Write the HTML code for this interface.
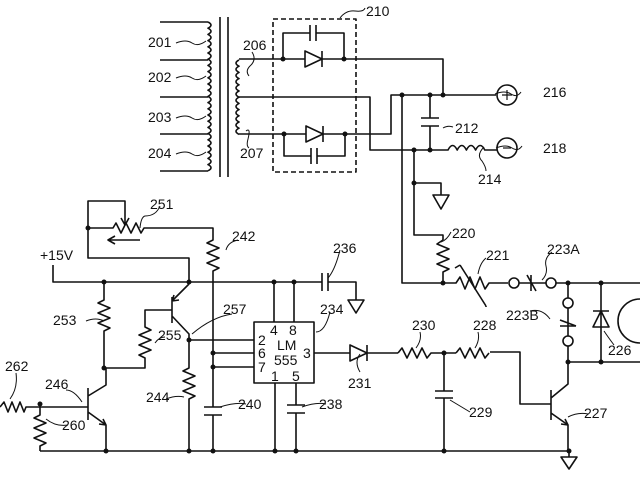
<!DOCTYPE html>
<html><head><meta charset="utf-8"><style>
html,body{margin:0;padding:0;background:#fff;}
svg{display:block;}
text{font-family:"Liberation Sans",sans-serif;font-size:14px;fill:#111;}
</style></head><body>
<svg width="640" height="480" viewBox="0 0 640 480" xmlns="http://www.w3.org/2000/svg">
<g fill="none" stroke="#111" stroke-width="1.6" stroke-linejoin="round">
<path d="M160 22H208 M160 60H208 M160 97H208 M160 134H208 M160 171H208"/>
<path d="M208 22 q6 3.1 0 6.2 q6 3.1 0 6.2 q6 3.1 0 6.2 q6 3.1 0 6.2 q6 3.1 0 6.2 q6 3.1 0 6.2 q6 3.1 0 6.2 q6 3.1 0 6.2 q6 3.1 0 6.2 q6 3.1 0 6.2 q6 3.1 0 6.2 q6 3.1 0 6.2 q6 3.1 0 6.2 q6 3.1 0 6.2 q6 3.1 0 6.2 q6 3.1 0 6.2 q6 3.1 0 6.2 q6 3.1 0 6.2 q6 3.1 0 6.2 q6 3.1 0 6.2 q6 3.1 0 6.2 q6 3.1 0 6.2 q6 3.1 0 6.2 q6 3.1 0 6.2"/>
<path d="M220 17V177 M228 17V177"/>
<path d="M239 60 q-6 3.1 0 6.2 q-6 3.1 0 6.2 q-6 3.1 0 6.2 q-6 3.1 0 6.2 q-6 3.1 0 6.2 q-6 3.1 0 6.2 q-6 3.1 0 6.2 q-6 3.1 0 6.2 q-6 3.1 0 6.2 q-6 3.1 0 6.2 q-6 3.1 0 6.2 q-6 3.1 0 6.2"/>
<path d="M239 59H283 M239 97H370V150H414 M239 134H284"/>
<rect x="273" y="19" width="83" height="153" stroke-dasharray="5,3"/>
<path d="M283 59V33H310 M316 33H344V59 M310 25V41 M316 25V41"/>
<path d="M283 59H305 M322 59H344"/>
<path d="M305 51V67L322 59Z M322 51V67"/>
<path d="M284 134V156H311 M317 156H345V134 M311 148V164 M317 148V164"/>
<path d="M284 134H306 M323 134H345"/>
<path d="M306 126V142L323 134Z M323 126V142"/>
<path d="M344 59H443V95 M345 134H391V95H496"/>
<circle cx="507" cy="95" r="10"/>
<path d="M502 95H512 M507 90V100" stroke-width="1.2"/>
<path d="M430 95V118 M421 118H439 M421 126H439 M430 126V150"/>
<path d="M414 150H448 q4.6 -9 9.2 0 q4.6 -9 9.2 0 q4.6 -9 9.2 0 q4.6 -9 9.2 0 H497"/>
<circle cx="507" cy="148" r="10"/>
<path d="M503 148H511" stroke-width="1.2"/>
<path d="M402 95V283H443 M414 150V235H443V240"/>
<path d="M414 183H441V195 M433 195H449L441 209Z"/>
<path d="M443 240 l-6 4 l12 5 l-12 5 l12 5 l-12 5 l12 5 l-6 3 V283"/>
<path d="M443 283H456 l4 -6 l5 12 l5 -12 l5 12 l5 -12 l5 12 l4 -6 H508"/>
<path d="M460 265 L486 306 M455 268 L460 265 M486 306V307"/>
<circle cx="514" cy="283" r="5"/>
<path d="M519 283H546 M527 275L536 291 M531 275V291"/>
<circle cx="551" cy="283" r="5"/>
<path d="M556 283H640"/>
<path d="M568 283V298"/>
<circle cx="568" cy="303" r="5"/>
<path d="M568 308V336 M560 320L576 326 M560 326H576"/>
<circle cx="568" cy="341" r="5"/>
<path d="M568 346V362H640"/>
<path d="M601 283V362 M593 311H609 M593 327H609L601 311Z"/>
<path d="M640 299 A22 22 0 0 0 640 343"/>
<path d="M490 352H520V404H551 M551 390V420 M551 398L568 384V362 M551 413L568 425V450"/>
<path d="M568 425 l-7 -1 M568 425 l-3 -6"/>
<path d="M569 450V457 M561 457H577L569 469Z"/>
<path d="M314 353H350 M350 345V361L367 353Z M367 345V361 M367 353H398"/>
<path d="M398 353 l4 -5 l5 10 l5 -10 l5 10 l5 -10 l5 10 l4 -5 H456"/>
<path d="M456 353 l4 -5 l5 10 l5 -10 l5 10 l5 -10 l5 10 l4 -5"/>
<path d="M444 353V391 M435 391H453 M435 398H453 M444 398V450"/>
<path d="M40 451H569"/>
<path d="M0 407 l4 -5 l4 10 l4 -10 l4 10 l4 -10 l4 10 l2 -5 H88"/>
<path d="M40 404V415 l-6 3 l12 5 l-12 5 l12 5 l-12 5 l12 5 l-6 3 V451"/>
<path d="M88 388V420 M88 396L106 385V368 M88 412L106 425V451 M106 425 l-7 -1 M106 425 l-3 -6"/>
<path d="M104 282V300 l-6 3 l12 5 l-12 5 l12 5 l-12 5 l12 5 l-6 3 V368"/>
<path d="M104 368H145V358 l-6 -3 l12 -5 l-12 -5 l12 -5 l-12 -5 l12 -5 l-6 -3 V310H172"/>
<path d="M172 297V323 M172 301L189 284 M172 316L189 334V340 M172 301 l7 -1 M172 301 l2 -6"/>
<path d="M53 265V282H294 M294 282H322 M328 282H356V300 M322 273V291 M328 273V291 M348 300H364L356 313Z"/>
<path d="M88 228V201H125V224 M121 218L125 225L129 218"/>
<path d="M88 228H113 l3 -5 l5 10 l5 -10 l5 10 l5 -10 l5 10 l3 -5 H213V240 l-6 3 l12 5 l-12 5 l12 5 l-12 5 l12 5 l-6 3 V407"/>
<path d="M140 240H109 M115 236L108 240L115 244"/>
<path d="M88 228V258H189V282"/>
<path d="M189 340H254 M213 353H254 M213 367H254"/>
<path d="M189 340V368 l-6 3 l12 5 l-12 5 l12 5 l-12 5 l12 5 l-6 3 V451"/>
<path d="M204 407H222 M204 415H222 M213 415V451"/>
<path d="M274 282V322 M294 282V322"/>
<rect x="254" y="322" width="60" height="61"/>
<path d="M275 383V451 M296 383V405 M287 405H305 M287 413H305 M296 413V451"/>
<path stroke-width="1" d="M176 43 q10 -4 16 0 t14 -2 M176 78 q10 -4 16 0 t14 -2 M176 118 q10 -4 16 0 t14 -2 M176 154 q10 -4 16 0 t14 -2"/>
<path stroke-width="1" d="M340 18 q6 -8 15 -7 t10 -3 M252 52 q5 8 -2 14 q-5 5 -1 10 M246 131 q5 -4 2 8 q-2 7 1 9 M443 128 q5 -3 10 -1 M495 94 q10 -4 16 0 t10 -2 M496 148 q10 -4 16 0 t10 -2 M484 147 q-8 8 -2 14 q4 6 4 10"/>
<path stroke-width="1" d="M451 232 q-4 8 -10 10 M486 258 q-6 5 -8 16 M552 252 q-8 6 -6 14 q2 8 -4 14 M530 311 q12 -3 20 8 M614 345 q-6 -8 -10 -14"/>
<path stroke-width="1" d="M160 206 q-4 10 -15 10 q-4 1 -5 12 M238 240 q-10 2 -12 10 M340 250 q-5 20 -12 28 M330 312 q-5 20 -14 20 M86 321 q10 -4 18 0 M165 337 q-6 0 -10 6 M232 314 q-20 3 -40 20 M166 399 q10 -4 18 -2 M246 404 q-10 -2 -26 3 M326 404 q-10 -2 -24 3 M66 390 q8 0 16 12 M16 373 q2 15 -6 26 M68 425 q-12 2 -22 -6 M470 412 q-10 -6 -20 -12 M588 414 q-10 -2 -20 3"/>
<path stroke-width="1" d="M420 332 q2 8 -4 16 M478 332 q2 8 -3 16 M360 372 q-6 -10 0 -18"/>
</g>
<g fill="#111">
<circle cx="283" cy="59" r="2.5"/><circle cx="344" cy="59" r="2.5"/><circle cx="284" cy="134" r="2.5"/><circle cx="345" cy="134" r="2.5"/>
<circle cx="402" cy="95" r="2.5"/><circle cx="430" cy="95" r="2.5"/><circle cx="443" cy="95" r="2.5"/>
<circle cx="414" cy="150" r="2.5"/><circle cx="430" cy="150" r="2.5"/><circle cx="414" cy="183" r="2.5"/>
<circle cx="443" cy="283" r="2.5"/><circle cx="568" cy="283" r="2.5"/><circle cx="601" cy="283" r="2.5"/>
<circle cx="568" cy="362" r="2.5"/><circle cx="601" cy="362" r="2.5"/><circle cx="444" cy="353" r="2.5"/>
<circle cx="444" cy="451" r="2.5"/><circle cx="569" cy="451" r="2.5"/>
<circle cx="88" cy="228" r="2.5"/><circle cx="104" cy="282" r="2.5"/><circle cx="189" cy="282" r="2.5"/><circle cx="274" cy="282" r="2.5"/><circle cx="294" cy="282" r="2.5"/>
<circle cx="104" cy="368" r="2.5"/><circle cx="189" cy="340" r="2.5"/><circle cx="213" cy="353" r="2.5"/><circle cx="213" cy="367" r="2.5"/>
<circle cx="40" cy="404" r="2.5"/><circle cx="106" cy="451" r="2.5"/><circle cx="189" cy="451" r="2.5"/><circle cx="213" cy="451" r="2.5"/><circle cx="275" cy="451" r="2.5"/><circle cx="296" cy="451" r="2.5"/>
</g>
<g>
<text x="366" y="16">210</text>
<text x="148" y="47">201</text><text x="148" y="82">202</text><text x="148" y="122">203</text><text x="148" y="158">204</text>
<text x="243" y="50">206</text><text x="240" y="158">207</text>
<text x="543" y="97">216</text><text x="543" y="153">218</text><text x="455" y="133">212</text><text x="478" y="184">214</text>
<text x="452" y="238">220</text><text x="486" y="260">221</text><text x="547" y="254">223A</text><text x="506" y="320">223B</text>
<text x="608" y="355">226</text><text x="584" y="418">227</text><text x="412" y="330">230</text><text x="473" y="330">228</text>
<text x="469" y="417">229</text><text x="348" y="388">231</text>
<text x="150" y="209">251</text><text x="232" y="241">242</text><text x="333" y="253">236</text><text x="320" y="314">234</text>
<text x="40" y="260">+15V</text><text x="53" y="325">253</text><text x="158" y="340">255</text><text x="223" y="314">257</text>
<text x="146" y="402">244</text><text x="238" y="409">240</text><text x="319" y="409">238</text>
<text x="45" y="389">246</text><text x="5" y="371">262</text><text x="62" y="430">260</text>
<text x="270" y="335">4</text><text x="289" y="335">8</text><text x="258" y="345">2</text><text x="258" y="358">6</text><text x="258" y="372">7</text>
<text x="277" y="350">LM</text><text x="274" y="365">555</text><text x="303" y="358">3</text><text x="271" y="381">1</text><text x="292" y="381">5</text>
</g>
</svg>
</body></html>
